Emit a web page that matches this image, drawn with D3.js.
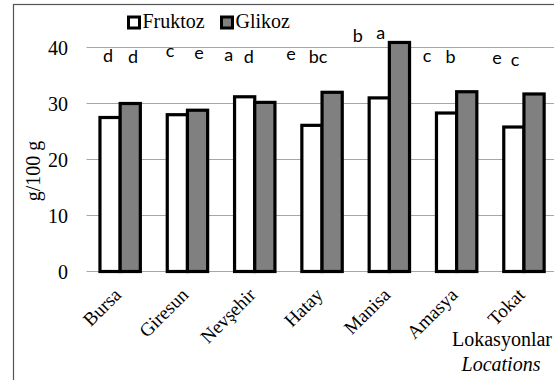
<!DOCTYPE html>
<html>
<head>
<meta charset="utf-8">
<script src="https://cdn.jsdelivr.net/npm/d3@7"></script>
<style>
  html, body { margin: 0; padding: 0; background: #fff; }
  svg { display: block; }
  svg text.serif { font-family: "Liberation Serif", "Times New Roman", serif; }
  svg text.sans { font-family: "Lato", "Open Sans", sans-serif; }
</style>
</head>
<body>
<div id="chart"></div>
<script>
// Sugar content by location (g/100 g)
const locations = ["Bursa", "Giresun", "Nevşehir", "Hatay", "Manisa", "Amasya", "Tokat"];
const seriesNames = ["Fruktoz", "Glikoz"];
const fruktoz = [27.5, 28.0, 31.2, 26.1, 31.0, 28.3, 25.8];
const glikoz  = [30.0, 28.8, 30.2, 32.0, 40.9, 32.1, 31.7];
const yTicks = [0, 10, 20, 30, 40];

// Significance letters for each bar
const fruktozLetters = ["d", "c", "a", "e", "b", "c", "e"];
const glikozLetters  = ["d", "e", "d", "bc", "a", "b", "c"];

// Letter placement: horizontal offset (px) from the location centre, and baseline in data units
const fruktozLetterDx = [-12, -17.5, -26, -31, -31.5, -29.5, -27];
const glikozLetterDx  = [13, 11.5, -6, -4, -8.5, -6, -9];
const fruktozLetterAt = [37.4, 38.25, 37.6, 37.8, 41.0, 37.5, 37.0];
const glikozLetterAt  = [37.2, 37.9, 37.2, 37.2, 41.5, 37.3, 36.7];

const W = 554, H = 380;
const fills = ["#ffffff", "#808080"];

const svg = d3.select("#chart").append("svg")
  .attr("width", W).attr("height", H);

// Chart frame
svg.append("rect")
  .attr("x", 13.5).attr("y", 4.5)
  .attr("width", W + 20).attr("height", H + 20)
  .attr("fill", "none").attr("stroke", "#555").attr("stroke-width", 1.2);

const x = d3.scaleBand().domain(locations).range([86.5, 557.6]).paddingInner(0.4).paddingOuter(0.2);
const xs = d3.scaleBand().domain(seriesNames).range([0, x.bandwidth()]);
const y = d3.scaleLinear().domain([0, 40]).range([271.5, 47.5]);

// Horizontal gridlines
svg.append("g").selectAll("line").data(yTicks).join("line")
  .attr("x1", 86.5).attr("x2", W)
  .attr("y1", d => y(d)).attr("y2", d => y(d))
  .attr("stroke", "#a6a6a6").attr("stroke-width", 1.2);

// Y tick labels
svg.append("g").selectAll("text").data(yTicks).join("text")
  .attr("class", "serif")
  .attr("x", 68).attr("y", d => y(d) + 7)
  .attr("text-anchor", "end")
  .attr("font-size", 20)
  .text(d => d);

// Y axis title
svg.append("text")
  .attr("class", "serif")
  .attr("transform", "rotate(-90, 40, 171)")
  .attr("x", 40).attr("y", 171)
  .attr("text-anchor", "middle")
  .attr("font-size", 20)
  .text("g/100 g");

// Bars
const rows = locations.map((loc, i) => ({
  loc,
  vals: [
    { s: "Fruktoz", v: fruktoz[i], fill: fills[0] },
    { s: "Glikoz", v: glikoz[i], fill: fills[1] }
  ]
}));

const groups = svg.append("g").selectAll("g").data(rows).join("g")
  .attr("transform", d => `translate(${x(d.loc)},0)`);

groups.selectAll("rect").data(d => d.vals).join("rect")
  .attr("x", d => xs(d.s))
  .attr("y", d => y(d.v))
  .attr("width", xs.bandwidth())
  .attr("height", d => y(0) - y(d.v))
  .attr("fill", d => d.fill)
  .attr("stroke", "#000")
  .attr("stroke-width", 3.2);

// Significance letters
const letterRows = [];
locations.forEach((loc, i) => {
  const cx = x(loc) + x.bandwidth() / 2;
  letterRows.push({ t: fruktozLetters[i], x: cx + fruktozLetterDx[i], y: y(fruktozLetterAt[i]) });
  letterRows.push({ t: glikozLetters[i], x: cx + glikozLetterDx[i], y: y(glikozLetterAt[i]) });
});
svg.append("g").selectAll("text").data(letterRows).join("text")
  .attr("class", "sans")
  .attr("x", d => d.x).attr("y", d => d.y)
  .attr("text-anchor", "middle")
  .attr("font-size", 18)
  .text(d => d.t);

// Rotated location labels
const labelG = svg.append("g").selectAll("g").data(locations).join("g")
  .attr("transform", d => `translate(${x(d) + x.bandwidth() / 2 + 2},296)`);
labelG.append("text")
  .attr("class", "serif")
  .attr("transform", "rotate(-45)")
  .attr("text-anchor", "end")
  .attr("font-size", 19)
  .text(d => d);

// X axis title
svg.append("text")
  .attr("class", "serif")
  .attr("x", 502).attr("y", 346)
  .attr("text-anchor", "middle")
  .attr("font-size", 20)
  .text("Lokasyonlar");
svg.append("text")
  .attr("class", "serif")
  .attr("x", 501).attr("y", 371)
  .attr("text-anchor", "middle")
  .attr("font-size", 20).attr("font-style", "italic")
  .text("Locations");

// Legend
const legend = svg.append("g");
const legendX = [128.5, 221.5];
seriesNames.forEach((name, i) => {
  legend.append("rect")
    .attr("x", legendX[i]).attr("y", 17)
    .attr("width", 11).attr("height", 11)
    .attr("fill", fills[i]).attr("stroke", "#000").attr("stroke-width", 3);
  legend.append("text")
    .attr("class", "serif")
    .attr("x", legendX[i] + 14).attr("y", 28)
    .attr("font-size", 20)
    .text(name);
});
</script>
</body>
</html>
